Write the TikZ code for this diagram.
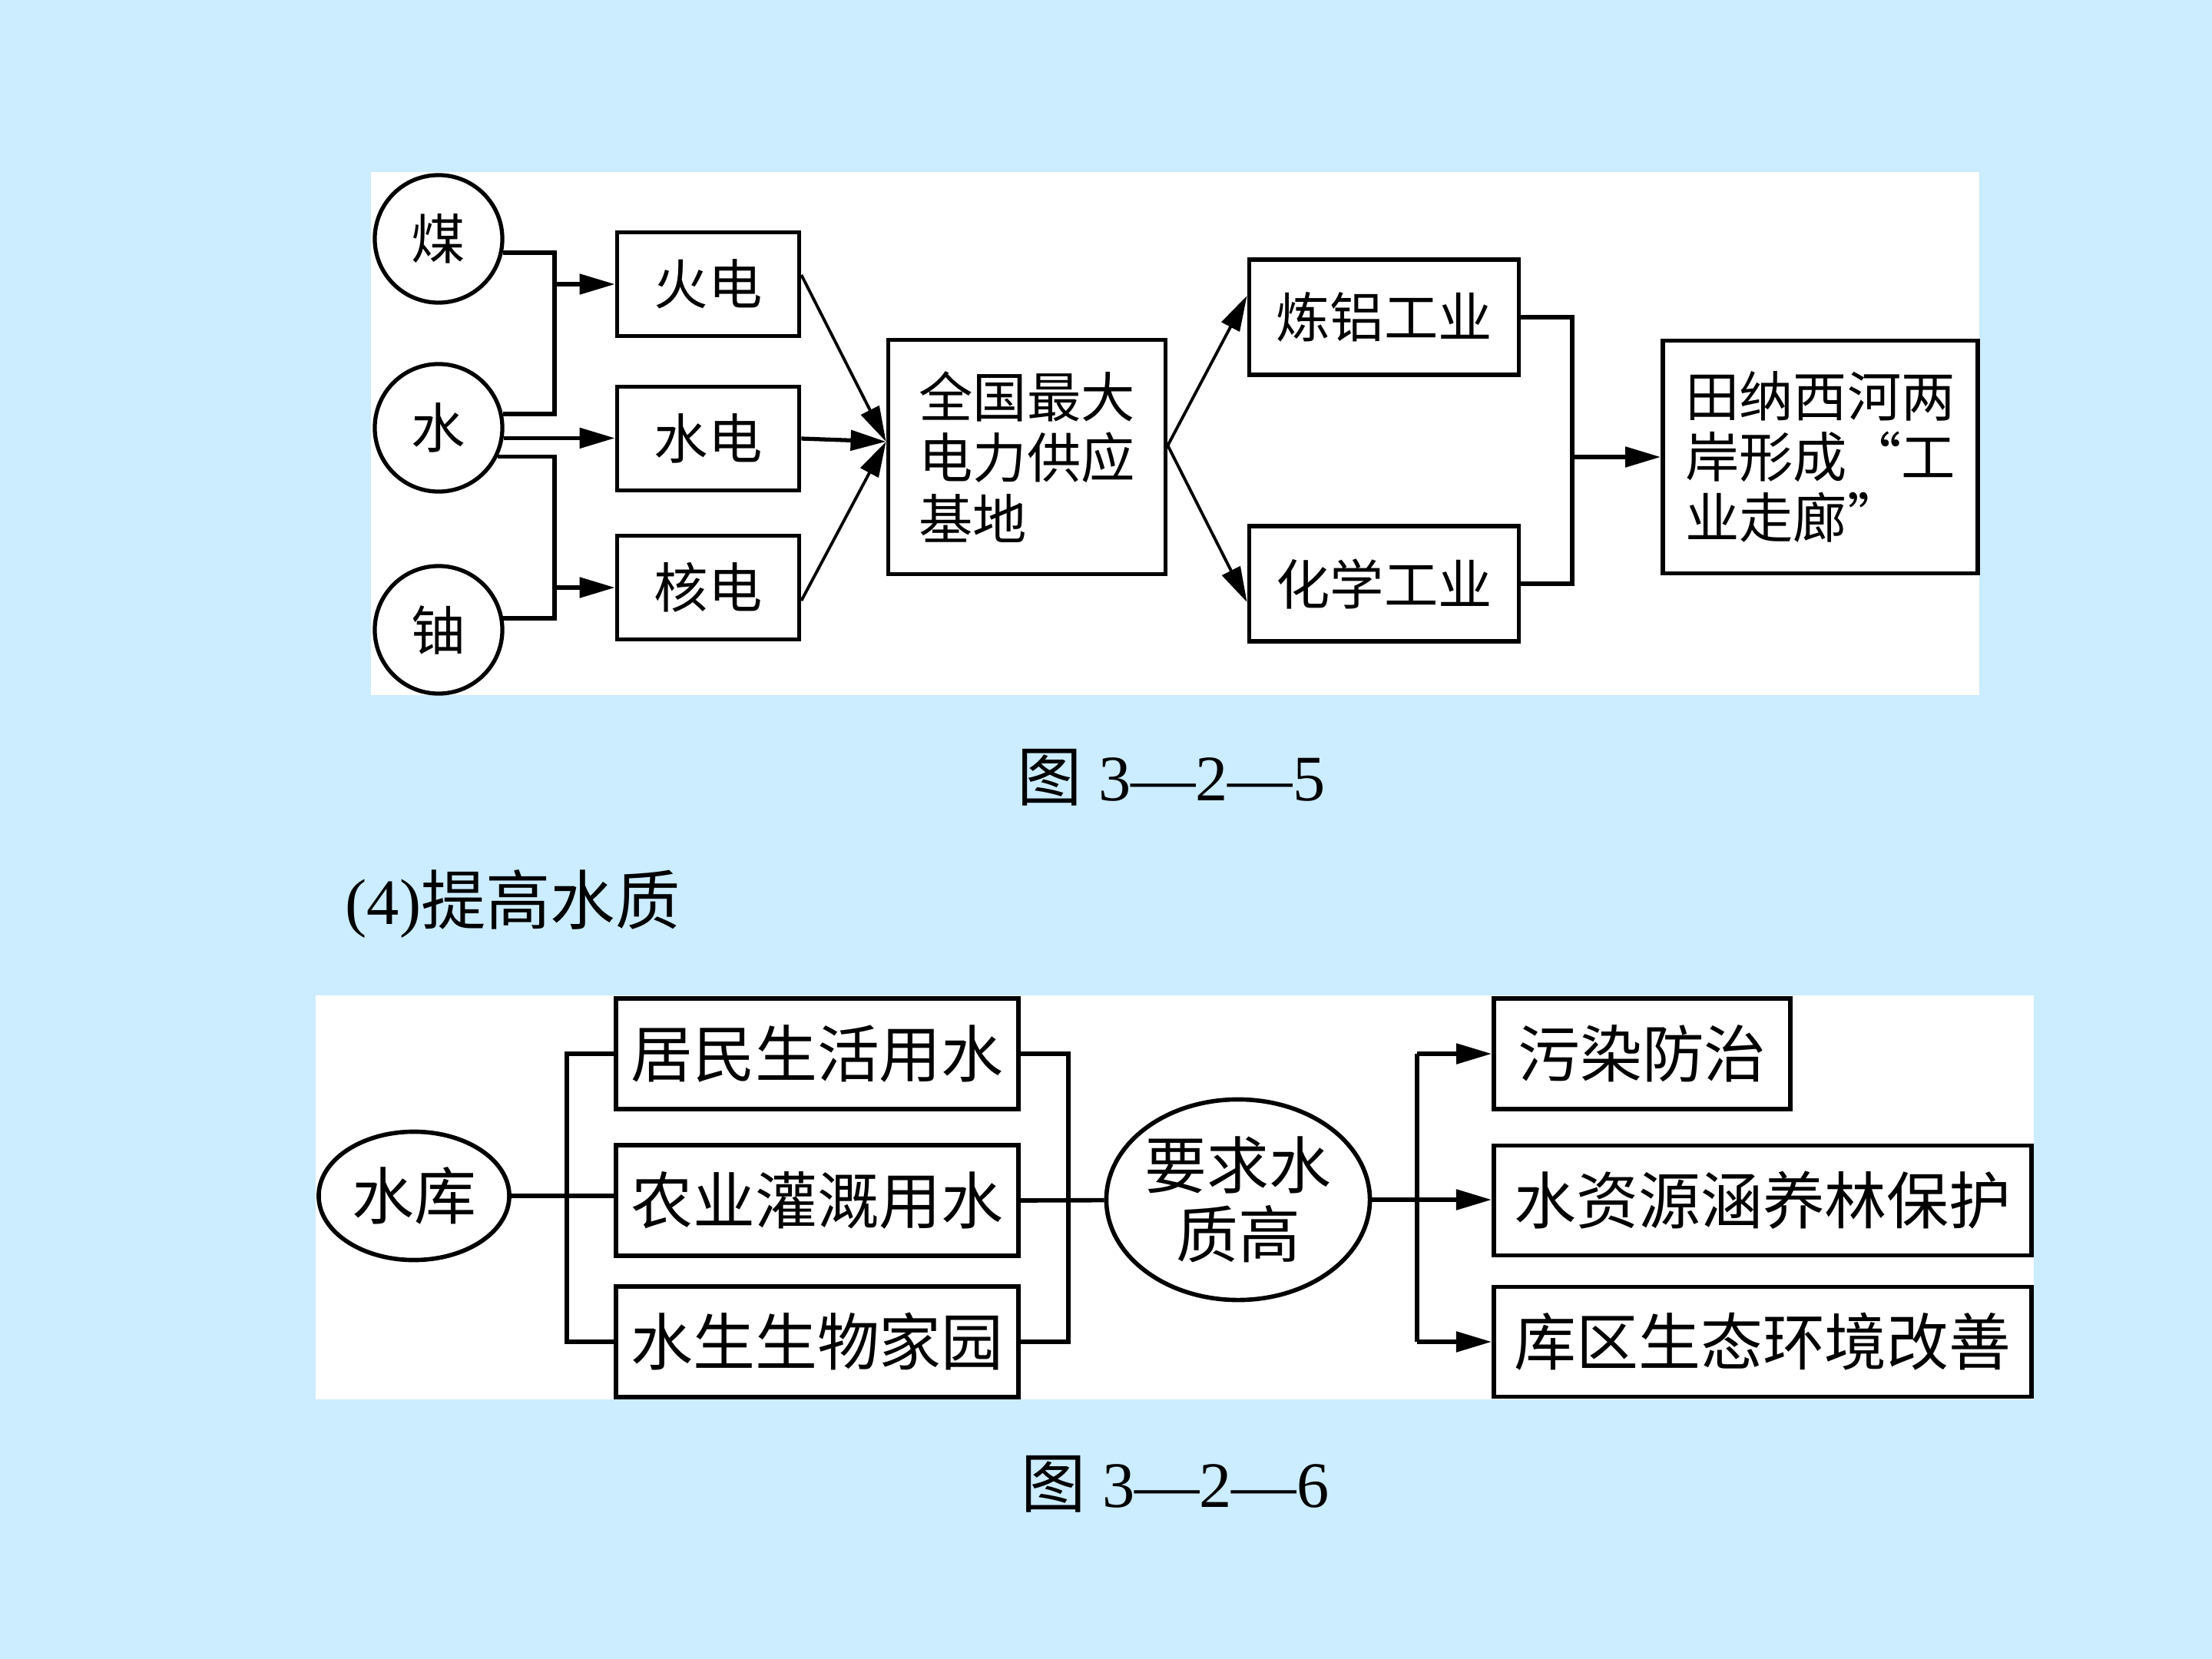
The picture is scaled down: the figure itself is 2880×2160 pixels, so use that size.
\documentclass[tikz,border=0pt]{standalone}
\usepackage{fontspec}
\setmainfont{Liberation Serif}
\newfontfamily\cjk{Noto Sans CJK SC}
\usepackage{tikz}
\usetikzlibrary{arrows.meta,positioning,calc,shapes.geometric}
\definecolor{slideblue}{HTML}{CCECFF}
\tikzset{
  box/.style       = {draw, line width=1.6pt, fill=white, inner sep=2pt},
  src/.style       = {draw, circle, line width=1.5pt, fill=white, minimum size=1.66cm, inner sep=0pt},
  oval/.style      = {draw, ellipse, line width=1.6pt, fill=white, inner sep=0pt},
  sig/.style       = {-{Triangle[length=4.6mm, width=2.6mm]}, line width=1.5pt},
  wire/.style      = {line width=1.6pt},
  topfont/.style   = {font=\cjk\fontsize{20pt}{22.5pt}\selectfont},
  lowfont/.style   = {font=\cjk\fontsize{23pt}{25.6pt}\selectfont},
  figcap/.style    = {font=\fontsize{24pt}{28pt}\selectfont, inner sep=0pt},
}

\begin{document}
\begin{tikzpicture}[x=0.01cm, y=-0.01cm]
  \useasboundingbox (0,0) rectangle (2880,2160);
  \fill[slideblue] (0,0) rectangle (2880,2160);
  \fill[white] (483,224) rectangle (2577,905);
  \fill[white] (411,1296) rectangle (2648,1822);

  % upper chart: power sources -> power base -> industry corridor
  \begin{scope}[topfont]
    \node[src] (mei)  at (571,311) {煤};
    \node[src] (shui) at (571,557) {水};
    \node[src] (you)  at (571,820) {铀};
    \node[box, minimum width=2.37cm, minimum height=1.35cm] (huodian)  at (922,370) {火电};
    \node[box, minimum width=2.37cm, minimum height=1.35cm] (shuidian) at (922,571) {水电};
    \node[box, minimum width=2.37cm, minimum height=1.35cm] (hedian)   at (922,765) {核电};
    \node[box, minimum width=3.61cm, minimum height=3.05cm, align=left] (base) at (1337,595)
      {全国最大\\电力供应\\基地};
    \node[box, minimum width=3.51cm, minimum height=1.50cm] (lvye)   at (1802,413) {炼铝工业};
    \node[box, minimum width=3.51cm, minimum height=1.50cm] (huaxue) at (1802,760) {化学工业};
    \node[box, minimum width=4.10cm, minimum height=3.03cm, align=left] (corridor) at (2370,595)
      {田纳西河两\\岸形成“工\\业走廊”};
  \end{scope}
  \coordinate (busA) at (722,0);
  \coordinate (busB) at (2047,0);
  \draw[wire] (mei.-12) -| (busA |- shui.12) -- (shui.12);
  \draw[wire] (shui.-26) -| (busA |- you.10) -- (you.10);
  \draw[sig] (busA |- huodian) -- (huodian.west);
  \draw[sig] (shui.-9) -- (shui.-9 -| shuidian.west);
  \draw[sig] (busA |- hedian) -- (hedian.west);
  \coordinate (hubL) at ($(base.west)+(0,-20)$);
  \draw[sig, line width=1.1pt] ($(huodian.east)+(0,-12)$) -- (hubL);
  \draw[sig] (shuidian.east) -- (hubL);
  \draw[sig, line width=1.1pt] ($(hedian.east)+(0,17)$) -- (hubL);
  \coordinate (hubR) at ($(base.east)+(0,-15)$);
  \draw[sig, line width=1.1pt] (hubR) -- ($(lvye.west)+(0,-28)$);
  \draw[sig, line width=1.1pt] (hubR) -- ($(huaxue.west)+(0,24)$);
  \draw[wire] (lvye.east) -| (busB |- huaxue) -- (huaxue.east);
  \draw[sig] (busB |- corridor) -- (corridor.west);

  \node[figcap] (cap325) at (1525,1012) {{\cjk 图} 3—2—5};
  \node[figcap, anchor=west, font=\fontsize{24pt}{28pt}\selectfont] (step4) at (449,1177) {(4){\cjk 提高水质}};

  % lower chart: reservoir uses -> water quality -> measures
  \begin{scope}[lowfont]
    \node[oval, minimum width=2.48cm, minimum height=1.67cm] (reservoir) at (539,1557) {水库};
    \node[box, minimum width=5.24cm, minimum height=1.44cm] (jumin)   at (1064,1372) {居民生活用水};
    \node[box, minimum width=5.24cm, minimum height=1.44cm] (nongye)  at (1064,1563) {农业灌溉用水};
    \node[box, minimum width=5.24cm, minimum height=1.44cm] (shengwu) at (1064,1747) {水生生物家园};
    \node[oval, minimum width=3.20cm, minimum height=2.61cm, align=center] (require) at (1612,1562)
      {要求水\\质高};
    \node[box, minimum width=3.86cm, minimum height=1.44cm] (wuran)   at (2138,1372) {污染防治};
    \node[box, minimum width=7.00cm, minimum height=1.43cm] (hanyang) at (2295,1563) {水资源涵养林保护};
    \node[box, minimum width=7.00cm, minimum height=1.43cm] (kuqu)    at (2295,1747) {库区生态环境改善};
  \end{scope}
  \coordinate (busC) at (738,0);
  \coordinate (busD) at (1391,0);
  \coordinate (busE) at (1845,0);
  \draw[wire] (reservoir.east) -- (reservoir.east -| nongye.west);
  \draw[wire] (jumin.west) -| (busC |- shengwu) -- (shengwu.west);
  \draw[wire] (jumin.east) -| (busD |- shengwu) -- (shengwu.east);
  \draw[wire] (nongye.east) -- (require);
  \draw[wire] (busE |- wuran) -- (busE |- kuqu);
  \draw[sig] (busE |- wuran) -- (wuran.west);
  \draw[sig] (require.east) -- (require.east -| hanyang.west);
  \draw[sig] (busE |- kuqu) -- (kuqu.west);

  \node[figcap] (cap326) at (1530,1932) {{\cjk 图} 3—2—6};
\end{tikzpicture}
\end{document}
